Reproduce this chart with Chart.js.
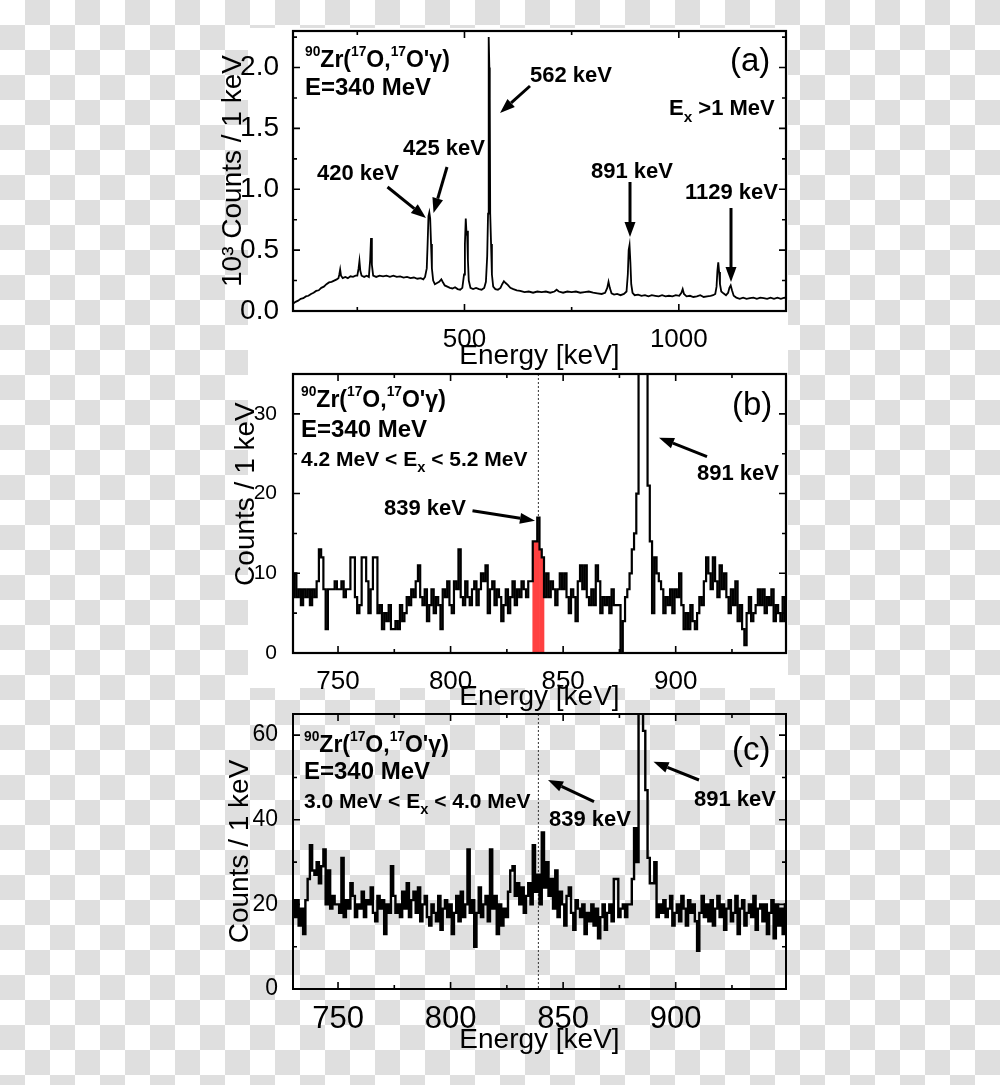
<!DOCTYPE html>
<html>
<head>
<meta charset="utf-8">
<script src="https://cdn.jsdelivr.net/npm/chart.js"></script>
<style>
  html, body { margin: 0; padding: 0; }
  #page {
    position: relative;
    width: 1000px;
    height: 1085px;
    overflow: hidden;
    background: repeating-conic-gradient(#dfdfdf 0 25%, #ffffff 0 50%) 0 0 / 50px 50px;
  }
  #paper { position: absolute; left: 248px; top: 28px; width: 540px; height: 660px; background: #fff; }
  canvas { position: absolute; left: 0; top: 0; width: 1000px; height: 1085px; }
</style>
</head>
<body>
<div id="page">
  <div id="paper"></div>
  <canvas id="chart-a" width="1000" height="1085"></canvas>
  <canvas id="chart-b" width="1000" height="1085"></canvas>
  <canvas id="chart-c" width="1000" height="1085"></canvas>
</div>
<script>
// (a) full gamma spectrum, 10^3 counts per keV
const energyA = [100, 106, 112, 118, 124, 130, 136, 142, 148, 154, 160, 166, 172, 178, 184, 190, 196, 202, 206, 208,
  210, 212, 216, 222, 228, 234, 240, 246, 250, 253, 255, 257, 260, 266, 272, 277, 280, 282, 284, 287,
  294, 302, 310, 318, 326, 334, 342, 350, 358, 366, 374, 382, 390, 398, 404, 408, 412, 414, 416, 418,
  420, 422, 424, 427, 431, 436, 441, 446, 449, 454, 460, 466, 472, 478, 484, 490, 495, 499, 501, 503,
  505, 506, 508, 510, 514, 520, 527, 534, 540, 546, 550, 553, 555, 556, 557, 558, 559, 560, 562, 564,
  567, 572, 578, 584, 588, 592, 596, 601, 607, 614, 622, 630, 640, 650, 660, 670, 680, 690, 700, 710,
  715, 720, 730, 740, 750, 760, 770, 780, 790, 800, 810, 820, 828, 833, 836, 839, 843, 849, 856, 864,
  872, 878, 881, 883, 885, 887, 889, 892, 897, 905, 913, 921, 929, 937, 945, 953, 961, 969, 977, 985,
  993, 1001, 1006, 1009, 1012, 1018, 1026, 1034, 1042, 1050, 1058, 1066, 1074, 1080, 1085, 1088, 1090, 1092, 1094, 1096,
  1099, 1104, 1110, 1115, 1118, 1121, 1124, 1128, 1134, 1142, 1150, 1158, 1166, 1174, 1182, 1190, 1198, 1206, 1214, 1222,
  1230, 1238, 1246, 1250];
const countsA = [0.06, 0.075, 0.085, 0.10, 0.105, 0.12, 0.125, 0.14, 0.15, 0.165, 0.17, 0.19, 0.20, 0.22, 0.235, 0.24, 0.25, 0.26, 0.27, 0.30,
  0.34, 0.29, 0.27, 0.28, 0.27, 0.285, 0.28, 0.29, 0.29, 0.35, 0.41, 0.33, 0.29, 0.28, 0.29, 0.28, 0.42, 0.60, 0.38, 0.29,
  0.28, 0.29, 0.285, 0.29, 0.28, 0.29, 0.28, 0.285, 0.275, 0.28, 0.27, 0.275, 0.265, 0.27, 0.26, 0.28, 0.35, 0.55, 0.78, 0.81,
  0.76, 0.55, 0.35, 0.25, 0.22, 0.23, 0.24, 0.26, 0.24, 0.21, 0.20, 0.19, 0.185, 0.195, 0.18, 0.175, 0.19, 0.30, 0.55, 0.76,
  0.62, 0.66, 0.42, 0.25, 0.19, 0.18, 0.19, 0.18, 0.175, 0.19, 0.24, 0.45, 0.80, 1.60, 2.25, 2.00, 1.75, 0.80, 0.55, 0.30,
  0.20, 0.18, 0.175, 0.19, 0.22, 0.245, 0.23, 0.215, 0.19, 0.18, 0.17, 0.165, 0.155, 0.16, 0.15, 0.16, 0.155, 0.16, 0.15, 0.16,
  0.175, 0.16, 0.15, 0.16, 0.155, 0.16, 0.15, 0.155, 0.16, 0.15, 0.145, 0.14, 0.15, 0.19, 0.24, 0.19, 0.145, 0.135, 0.14, 0.13,
  0.14, 0.16, 0.30, 0.50, 0.54, 0.40, 0.22, 0.15, 0.13, 0.135, 0.125, 0.13, 0.12, 0.13, 0.125, 0.12, 0.13, 0.12, 0.125, 0.12,
  0.13, 0.125, 0.15, 0.18, 0.14, 0.12, 0.125, 0.115, 0.12, 0.13, 0.115, 0.12, 0.125, 0.13, 0.14, 0.20, 0.33, 0.40, 0.32, 0.22,
  0.16, 0.145, 0.13, 0.15, 0.19, 0.21, 0.17, 0.125, 0.11, 0.10, 0.11, 0.10, 0.105, 0.11, 0.10, 0.11, 0.105, 0.10, 0.11, 0.10,
  0.11, 0.10, 0.11, 0.105];

// (b) and (c) gated spectra, 1 keV bins starting at 730 keV
const binStart = 730;
const countsB = [
  7, 10, 7, 8, 6, 8, 7, 8, 6, 8,
  7, 9, 13, 12, 8, 3, 8, 8, 8, 9,
  8, 8, 9, 7, 8, 8, 12, 12, 7, 5,
  6, 12, 12, 9, 5, 8, 12, 12, 5, 6,
  3, 5, 4, 6, 3, 3, 4, 3, 6, 4,
  5, 7, 6, 8, 7, 9, 11, 7, 6, 8,
  4, 6, 8, 5, 7, 6, 3, 8, 7, 9,
  6, 5, 9, 8, 13, 7, 6, 9, 7, 6,
  8, 9, 6, 8, 10, 9, 11, 5, 8, 9,
  6, 8, 7, 4, 6, 8, 5, 7, 9, 6,
  8, 7, 9, 8, 7, 9, 9, 14, 14, 17,
  13, 12, 7, 10, 7, 9, 8, 6, 8, 10,
  8, 10, 7, 5, 8, 7, 4, 9, 11, 8,
  11, 7, 6, 8, 6, 11, 9, 5, 7, 6,
  7, 5, 8, 6, 6, 6, 0, 4, 7, 8,
  10, 13, 15, 20, 45, 70, 65, 40, 21, 14,
  5, 12, 10, 9, 8, 5, 7, 6, 8, 5,
  8, 7, 10, 6, 3, 5, 3, 6, 4, 3,
  5, 7, 6, 9, 12, 10, 8, 12, 9, 7,
  11, 8, 10, 7, 5, 8, 6, 9, 4, 6,
  3, 1, 5, 7, 4, 5, 6, 8, 6, 8,
  5, 7, 6, 8, 4, 6, 5, 4, 7, 4];
const countsC = [
  21, 17, 21, 15, 19, 13, 21, 26, 34, 28,
  27, 30, 25, 29, 33, 20, 28, 19, 22, 20,
  20, 18, 31, 17, 21, 19, 25, 22, 17, 20,
  19, 23, 17, 21, 20, 24, 18, 16, 22, 19,
  21, 13, 20, 18, 29, 22, 18, 20, 17, 23,
  19, 25, 17, 21, 23, 18, 24, 16, 20, 22,
  17, 15, 20, 18, 16, 22, 14, 19, 21, 17,
  20, 13, 18, 22, 16, 23, 17, 20, 33, 18,
  21, 10, 18, 24, 17, 20, 22, 16, 33, 19,
  22, 13, 20, 15, 19, 17, 23, 28, 29, 22,
  25, 20, 24, 18, 22, 25, 20, 34, 23, 27,
  20, 37, 24, 30, 22, 26, 19, 28, 17, 23,
  20, 15, 22, 24, 18, 14, 21, 19, 17, 20,
  13, 18, 16, 20, 15, 19, 12, 17, 20, 14,
  18, 20, 16, 26, 26, 17, 19, 20, 17, 20,
  20, 26, 38, 30, 67, 70, 61, 47, 31, 25,
  25, 30, 17, 20, 18, 21, 17, 19, 22, 15,
  18, 20, 16, 22, 19, 15, 21, 18, 20, 16,
  9, 18, 22, 17, 20, 16, 21, 15, 19, 22,
  17, 20, 14, 19, 21, 16, 18, 22, 13, 19,
  21, 15, 18, 20, 17, 22, 14, 19, 20, 16,
  20, 13, 18, 21, 12, 20, 15, 19, 13, 20];

// red-shaded 839 keV region in (b)
const gateEnergyB = [837, 838, 839, 840, 841];
const gateCountsB = [14, 14, 14, 13, 12];
const markerEnergy = 839;

// ticks
const xTicksA = [500, 1000];
const xMinorA = [250, 750];
const yTicksA = [0, 0.5, 1.0, 1.5, 2.0];
const yMinorA = [0.25, 0.75, 1.25, 1.75, 2.25];
const xTicksBC = [750, 800, 850, 900];
const xMinorBC = [775, 825, 875, 925];
const yTicksB = [0, 10, 20, 30];
const yMinorB = [5, 15, 25];
const yTicksC = [0, 20, 40, 60];
const yMinorC = [10, 30, 50];

const FONT = "'Liberation Sans', Arial, Helvetica, sans-serif";
Chart.defaults.font.family = FONT;
Chart.defaults.color = "#000";

const ZR = [["90", "sup"], ["Zr(", ""], ["17", "sup"], ["O,", ""], ["17", "sup"], ["O'γ)", ""]];

function drawRich(ctx, x, y, parts, size, weight) {
  let cx = x;
  for (const [t, m] of parts) {
    const s = m === "sup" ? size * 0.6 : m === "sub" ? size * 0.7 : size;
    const dy = m === "sup" ? -size * 0.5 : m === "sub" ? size * 0.3 : 0;
    ctx.font = `${weight} ${s}px ${FONT}`;
    ctx.fillText(t, cx, y + dy);
    cx += ctx.measureText(t).width;
  }
}

function drawArrow(ctx, x1, y1, x2, y2) {
  const ang = Math.atan2(y2 - y1, x2 - x1);
  const head = 15, half = 5.5;
  const bx = x2 - head * Math.cos(ang), by = y2 - head * Math.sin(ang);
  ctx.beginPath();
  ctx.moveTo(x1, y1);
  ctx.lineTo(bx, by);
  ctx.lineWidth = 3;
  ctx.stroke();
  ctx.beginPath();
  ctx.moveTo(x2, y2);
  ctx.lineTo(bx + half * Math.sin(ang), by - half * Math.cos(ang));
  ctx.lineTo(bx - half * Math.sin(ang), by + half * Math.cos(ang));
  ctx.closePath();
  ctx.fill();
}

// frame with inward ticks on all four sides
const framePlugin = {
  id: "frame",
  afterDatasetsDraw(chart, args, opts) {
    const { ctx, chartArea: a, scales: { x, y } } = chart;
    ctx.save();
    ctx.strokeStyle = "#000";
    ctx.lineWidth = 1.6;
    const mark = (vals, len) => {
      vals.forEach((v) => {
        const px = x.getPixelForValue(v);
        ctx.beginPath();
        ctx.moveTo(px, a.bottom); ctx.lineTo(px, a.bottom - len);
        ctx.moveTo(px, a.top); ctx.lineTo(px, a.top + len);
        ctx.stroke();
      });
    };
    const markY = (vals, len) => {
      vals.forEach((v) => {
        const py = y.getPixelForValue(v);
        ctx.beginPath();
        ctx.moveTo(a.left, py); ctx.lineTo(a.left + len, py);
        ctx.moveTo(a.right, py); ctx.lineTo(a.right - len, py);
        ctx.stroke();
      });
    };
    mark(opts.xMajor, 7);
    mark(opts.xMinor, 4);
    markY(opts.yMajor, 7);
    markY(opts.yMinor, 4);
    ctx.lineWidth = opts.lineWidth;
    ctx.strokeRect(a.left, a.top, a.right - a.left, a.bottom - a.top);
    ctx.restore();
  },
};

// labels, arrows and the dotted 839 keV marker
const notesPlugin = {
  id: "notes",
  beforeDatasetsDraw(chart, args, opts) {
    if (!opts.marker) return;
    const { ctx, chartArea: a, scales: { x, y } } = chart;
    const px = x.getPixelForValue(opts.marker.x);
    const bottom = opts.marker.to != null ? y.getPixelForValue(opts.marker.to) : a.bottom;
    ctx.save();
    ctx.strokeStyle = "#333";
    ctx.lineWidth = 1;
    ctx.setLineDash([2, 2]);
    ctx.beginPath();
    ctx.moveTo(px, a.top);
    ctx.lineTo(px, bottom);
    ctx.stroke();
    ctx.restore();
  },
  afterDraw(chart, args, opts) {
    const ctx = chart.ctx;
    ctx.save();
    ctx.fillStyle = "#000";
    ctx.strokeStyle = "#000";
    ctx.textBaseline = "alphabetic";
    ctx.textAlign = "left";
    (opts.texts || []).forEach((t) => drawRich(ctx, t.x, t.y, t.parts, t.size, t.weight || "bold"));
    (opts.arrows || []).forEach((ar) => drawArrow(ctx, ...ar));
    ctx.restore();
  },
};

function axes(o) {
  return {
    x: {
      type: "linear", min: o.xMin, max: o.xMax, offset: false,
      afterFit: (s) => { s.height = o.xHeight; },
      afterBuildTicks: (s) => { s.ticks = o.xTicks.map((v) => ({ value: v })); },
      grid: { display: false, offset: false }, border: { display: false },
      ticks: { font: { size: o.xTickSize }, color: "#000", padding: o.xTickPad, maxRotation: 0, autoSkip: false,
               callback: (v) => String(v) },
      title: { display: true, text: "Energy [keV]", font: { size: 28 }, color: "#000", padding: { top: 0, bottom: 0 } },
    },
    y: {
      type: "linear", min: 0, max: o.yMax,
      afterFit: (s) => { s.width = 93; },
      afterBuildTicks: (s) => { s.ticks = o.yTicks.map((v) => ({ value: v })); },
      grid: { display: false }, border: { display: false },
      ticks: { font: { size: o.yTickSize }, color: "#000", padding: o.yTickPad, callback: o.yFormat },
      title: { display: true, text: o.yTitle, font: { size: 28 }, color: "#000", padding: { top: o.yTitlePad, bottom: 0 } },
    },
  };
}

const common = { responsive: false, animation: false, events: [] };

new Chart(document.getElementById("chart-a"), {
  type: "line",
  data: {
    datasets: [{
      data: energyA.map((e, i) => ({ x: e, y: countsA[i] })),
      borderColor: "#000", borderWidth: 1.8, pointRadius: 0, tension: 0,
    }],
  },
  options: {
    ...common,
    layout: { padding: { left: 200, right: 214, top: 31, bottom: 712 } },
    scales: axes({
      xMin: 100, xMax: 1250, xHeight: 62, xTicks: xTicksA, xTickSize: 26, xTickPad: 5,
      yMax: 2.3, yTicks: yTicksA, yTickSize: 28, yTickPad: 6, yFormat: (v) => v.toFixed(1),
      yTitle: "10³ Counts / 1 keV", yTitlePad: 16,
    }),
    plugins: {
      legend: { display: false }, tooltip: { enabled: false },
      frame: { lineWidth: 2.2, xMajor: xTicksA, xMinor: xMinorA, yMajor: yTicksA, yMinor: yMinorA },
      notes: {
        texts: [
          { x: 305, y: 67, size: 23, parts: ZR },
          { x: 305, y: 95, size: 24, parts: [["E=340 MeV", ""]] },
          { x: 730, y: 71, size: 33, weight: "normal", parts: [["(a)", ""]] },
          { x: 669, y: 115, size: 22, parts: [["E", ""], ["x", "sub"], [" >1 MeV", ""]] },
          { x: 530, y: 82, size: 22, parts: [["562 keV", ""]] },
          { x: 403, y: 155, size: 22, parts: [["425 keV", ""]] },
          { x: 317, y: 180, size: 22, parts: [["420 keV", ""]] },
          { x: 591, y: 178, size: 22, parts: [["891 keV", ""]] },
          { x: 685, y: 199, size: 22, parts: [["1129 keV", ""]] },
        ],
        arrows: [
          [530, 86, 500, 113],
          [447, 167, 433.5, 213],
          [387.5, 187, 426, 218],
          [630, 182, 630, 237],
          [731, 208, 731, 282],
        ],
      },
    },
  },
  plugins: [framePlugin, notesPlugin],
});

new Chart(document.getElementById("chart-b"), {
  type: "line",
  data: {
    datasets: [
      {
        type: "line",
        data: countsB.map((c, i) => ({ x: binStart + i, y: c })),
        borderColor: "#000", borderWidth: 2.2, pointRadius: 0, stepped: "middle", order: 1,
      },
      {
        type: "bar",
        data: gateEnergyB.map((e, i) => ({ x: e, y: gateCountsB[i] })),
        backgroundColor: "#ff4040", borderWidth: 0, barPercentage: 1, categoryPercentage: 1, order: 2,
      },
    ],
  },
  options: {
    ...common,
    layout: { padding: { left: 200, right: 214, top: 374, bottom: 371 } },
    scales: axes({
      xMin: 730, xMax: 949, xHeight: 61, xTicks: xTicksBC, xTickSize: 26, xTickPad: 5,
      yMax: 35, yTicks: yTicksB, yTickSize: 21, yTickPad: 8, yFormat: (v) => String(v),
      yTitle: "     Counts / 1 keV", yTitlePad: 29,
    }),
    plugins: {
      legend: { display: false }, tooltip: { enabled: false },
      frame: { lineWidth: 2.2, xMajor: xTicksBC, xMinor: xMinorBC, yMajor: yTicksB, yMinor: yMinorB },
      notes: {
        marker: { x: markerEnergy, to: countsB[markerEnergy - binStart] },
        texts: [
          { x: 301, y: 407, size: 23, parts: ZR },
          { x: 301, y: 437, size: 24, parts: [["E=340 MeV", ""]] },
          { x: 301, y: 466, size: 21, parts: [["4.2 MeV < E", ""], ["x", "sub"], [" < 5.2 MeV", ""]] },
          { x: 732, y: 415, size: 33, weight: "normal", parts: [["(b)", ""]] },
          { x: 384, y: 515, size: 22, parts: [["839 keV", ""]] },
          { x: 697, y: 480, size: 22, parts: [["891 keV", ""]] },
        ],
        arrows: [
          [472.5, 510.7, 535, 520.7],
          [707, 456.7, 659, 437.7],
        ],
      },
    },
  },
  plugins: [framePlugin, notesPlugin],
});

new Chart(document.getElementById("chart-c"), {
  type: "line",
  data: {
    datasets: [{
      data: countsC.map((c, i) => ({ x: binStart + i, y: c })),
      borderColor: "#000", borderWidth: 2.4, pointRadius: 0, stepped: "middle",
    }],
  },
  options: {
    ...common,
    layout: { padding: { left: 200, right: 214, top: 714, bottom: 28 } },
    scales: axes({
      xMin: 730, xMax: 949, xHeight: 68, xTicks: xTicksBC, xTickSize: 31, xTickPad: 4,
      yMax: 65, yTicks: yTicksC, yTickSize: 23, yTickPad: 7, yFormat: (v) => String(v),
      yTitle: "Counts / 1 keV", yTitlePad: 23,
    }),
    plugins: {
      legend: { display: false }, tooltip: { enabled: false },
      frame: { lineWidth: 2, xMajor: xTicksBC, xMinor: xMinorBC, yMajor: yTicksC, yMinor: yMinorC },
      notes: {
        marker: { x: markerEnergy, to: null },
        texts: [
          { x: 304, y: 752, size: 23, parts: ZR },
          { x: 304, y: 779, size: 24, parts: [["E=340 MeV", ""]] },
          { x: 304, y: 808, size: 21, parts: [["3.0 MeV < E", ""], ["x", "sub"], [" < 4.0 MeV", ""]] },
          { x: 732, y: 760, size: 33, weight: "normal", parts: [["(c)", ""]] },
          { x: 549, y: 826, size: 22, parts: [["839 keV", ""]] },
          { x: 694, y: 806, size: 22, parts: [["891 keV", ""]] },
        ],
        arrows: [
          [594, 801.7, 548, 780],
          [699, 780, 653.5, 761.7],
        ],
      },
    },
  },
  plugins: [framePlugin, notesPlugin],
});
</script>
</body>
</html>
